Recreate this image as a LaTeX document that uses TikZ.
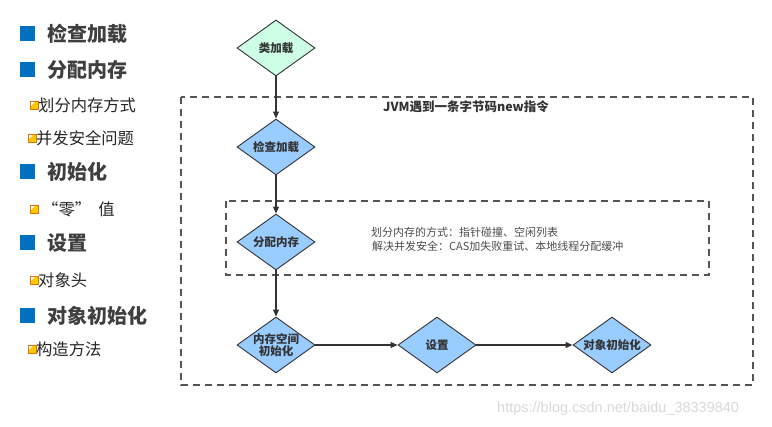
\documentclass[tikz,border=0pt]{standalone}
\usepackage{fontspec}
\setmainfont{Liberation Sans}
\newfontfamily\cjk{Noto Sans CJK SC}
\newfontfamily\wmfont{Liberation Sans}
\usetikzlibrary{shapes.geometric,arrows.meta}
\definecolor{edge}{HTML}{333333}
\definecolor{dfill}{HTML}{99CCFF}
\definecolor{gfill}{HTML}{CCFFE6}
\definecolor{dashc}{HTML}{555555}
\definecolor{headc}{HTML}{3F3F3F}
\definecolor{sqblue}{HTML}{0070C0}
\definecolor{noteg}{HTML}{4D4D4D}
\tikzset{
  dia/.style={diamond,draw=edge,line width=0.9pt,fill=dfill,aspect=1.39,
    minimum width=78pt,minimum height=56pt,inner sep=-2pt,align=center,
    font=\cjk\bfseries\fontsize{11.5}{13}\selectfont,text=edge},
  flow/.style={draw=edge,line width=1.1pt,-{Triangle[length=7pt,width=6pt]}},
  frame/.style={draw=dashc,line width=1.2pt,dash pattern=on 7pt off 5pt},
  head/.style={anchor=west,inner sep=0pt,font=\cjk\bfseries\fontsize{20}{22}\selectfont,text=headc},
  sub/.style={anchor=west,inner sep=0pt,font=\cjk\fontsize{16.3}{18}\selectfont,text=black!85},
  note/.style={anchor=west,inner sep=0pt,font=\cjk\fontsize{11}{13}\selectfont,text=noteg},
}
\newcommand{\bluesq}[1]{\fill[sqblue] (20,#1-7.5) rectangle (35,#1+7.5);}
\newcommand{\yicon}[2]{%
  \fill[yellow!60!orange] (#1,#2-4) rectangle (#1+8,#2+4);
  \fill[white] (#1,#2-4) -- (#1+6,#2-4) -- (#1,#2+2) -- cycle;
  \draw[orange!90!black,line width=0.6pt] (#1,#2-4) rectangle (#1+8,#2+4);}
\begin{document}
\begin{tikzpicture}[x=1pt,y=-1pt]
\useasboundingbox[fill=white] (0,0) rectangle (772,427);

% left list
\bluesq{34}  \node[head] (h1) at (47,34) {检查加载};
\bluesq{70}  \node[head] (h2) at (47,70) {分配内存};
\yicon{30}{105} \node[sub] (s1) at (38,105) {划分内存方式};
\yicon{28}{138} \node[sub] (s2) at (36,138) {并发安全问题};
\bluesq{172} \node[head] (h3) at (47,172) {初始化};
\yicon{30}{209} \node[sub] (s3) at (42,209) {“零”\hspace{0.45em}值};
\bluesq{243} \node[head] (h4) at (47,243) {设置};
\yicon{30}{280} \node[sub] (s4) at (38,280) {对象头};
\bluesq{316} \node[head] (h5) at (47,316) {对象初始化};
\yicon{28}{349} \node[sub] (s5) at (36,349) {构造方法};

% frames
\draw[frame] (181,97) rectangle (753,385);
\draw[frame] (226,201) rectangle (709,275);
\node[anchor=center,inner sep=0pt,font=\cjk\bfseries\fontsize{12.5}{14}\selectfont,text=edge] (title) at (466,107) {JVM遇到一条字节码new指令};

% diamonds
\node[dia,fill=gfill] (d0) at (276,48) {类加载};
\node[dia] (d1) at (276,147) {检查加载};
\node[dia] (d2) at (276,242) {分配内存};
\node[dia] (d3) at (276,345) {内存空间\\[-1pt]初始化};
\node[dia] (d4) at (437,345) {设置};
\node[dia] (d5) at (612,345) {对象初始化};

\draw[flow] (d0) -- (d1);
\draw[flow] (d1) -- (d2);
\draw[flow] (d2) -- (d3);
\draw[flow] (d3) -- (d4);
\draw[flow] (d4) -- (d5);

% notes
\node[note] (n1) at (371,232) {划分内存的方式：指针碰撞、空闲列表};
\node[note] (n2) at (372,246) {解决并发安全：CAS加失败重试、本地线程分配缓冲};

% watermark
\node[anchor=west,inner sep=0pt,font=\wmfont\fontsize{14.5}{16}\selectfont,text=black!15] (wm) at (497,409) {https://blog.csdn.net/baidu\_38339840};
\end{tikzpicture}
\end{document}
